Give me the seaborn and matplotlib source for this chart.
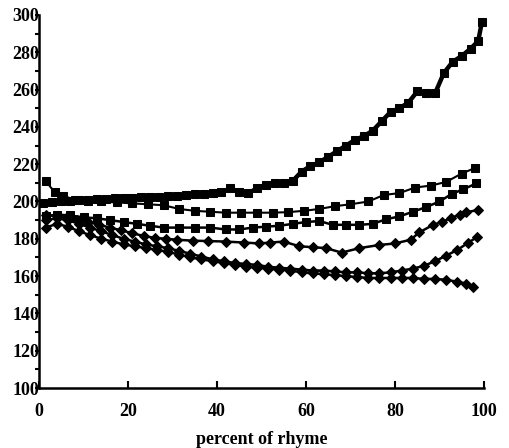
import matplotlib
matplotlib.use("Agg")
import matplotlib.pyplot as plt
import seaborn as sns
import pandas as pd
from matplotlib.ticker import MultipleLocator

sns.set_theme(style="white")
plt.rcParams['font.family'] = ['Liberation Serif', 'DejaVu Serif']

# Series A (top, squares)
x_a = [1, 3, 5, 7, 9, 11, 13, 15, 17, 19, 21, 23, 25, 27, 29, 31, 33, 35, 37, 39,
       41, 43, 45, 47, 49, 51, 53, 55, 57, 59, 61, 63, 65, 67, 69, 71, 73, 75, 77, 79,
       81, 83, 85, 87, 89, 91, 93, 95, 97, 98.7, 99.5]
y_a = [199, 199.5, 200, 200.5, 201, 201, 201.5, 201.5, 202, 202, 202, 202.5, 202.5, 202.5, 203, 203, 203.5, 204, 204, 204.5,
       205, 207, 205, 204.5, 207, 209, 210, 210, 211, 216, 219, 221, 224, 227, 230, 233, 235, 238, 243, 248,
       250, 253, 259, 258, 258, 269, 275, 278, 282, 286, 296]

# Series B (squares, ends ~218)
x_b = [1.5, 3.5, 5.5, 8, 11, 14, 17.5, 21, 24.5, 28, 31.5, 35, 38.5, 42, 45.5, 49, 52.5, 56,
       59.5, 63, 66.5, 70, 74, 77.5, 81, 84.5, 88, 91.5, 95, 98]
y_b = [211, 205, 203, 201, 200.5, 200, 199.5, 199, 198.5, 198, 196, 195, 194.5, 194, 194, 194, 194, 194.3,
       195, 196, 197.5, 198.5, 200, 203.5, 204.5, 207.5, 208.5, 210.5, 215, 218]

# Series C (squares, ends ~210)
x_c = [1.5, 4, 7, 10, 13, 16, 19, 22, 25, 28, 31.5, 35, 38.5, 42, 45, 48, 51, 54, 57, 60,
       63, 66, 69, 72, 75, 78, 81, 84, 87, 90, 92.7, 95.3, 98.3]
y_c = [192, 193, 192.5, 191.5, 191, 190, 189, 188, 187, 186, 186, 186, 186, 185, 185, 186, 186.5, 187, 188, 189,
       189.5, 187.5, 187.5, 187.5, 188, 190.5, 192, 194.5, 197, 200, 204, 206.5, 209.7]

# Series D (diamonds, ends ~195)
x_d = [1.5, 4, 6, 8.5, 11, 13.5, 16, 18.5, 21, 23.5, 26, 28.5, 31, 34.5, 38, 42, 46, 49.5, 52, 55,
       58.5, 61.5, 64.5, 68, 72, 76.5, 80, 83.5, 85.5, 88.5, 90.5, 92.5, 94.5, 96, 98.7]
y_d = [193, 192, 191, 190, 189, 187.5, 186, 184.5, 183, 181.5, 180.5, 180, 179.5, 179, 178.8, 178.5, 178, 177.5, 178, 178.5,
       176, 175.5, 175, 172.6, 175, 176.7, 177.5, 179.5, 183.5, 187.4, 189, 191, 193, 194.3, 195.4]

# Series E (diamonds, ends ~181)
x_e = [1.5, 4, 6.5, 9, 11.5, 14, 16.5, 19, 21.5, 24, 26.5, 29, 31.5, 34, 36.5, 39, 41.5, 44, 46.5, 49,
       51.5, 54, 56.5, 59, 61.5, 64, 66.5, 69, 71.5, 74, 76.5, 79, 81.5, 84, 86.5, 89, 91.5, 94, 96.5, 98.5]
y_e = [190, 191, 190, 188, 186, 184, 182, 180, 178.5, 177, 176, 175, 173.5, 172, 170.5, 169, 168, 167, 166.5, 166,
       165, 164.5, 164, 163.5, 163, 163, 162.5, 162, 162, 161.5, 161.5, 162, 163, 164, 165.5, 168, 171, 174, 178, 181]

# Series F (diamonds, ends ~154)
x_f = [1.5, 4, 6.5, 9, 11.5, 14, 16.5, 19, 21.5, 24, 26.5, 29, 31.5, 34, 36.5, 39, 41.5, 44, 46.5, 49,
       51.5, 54, 56.5, 59, 61.5, 64, 66.5, 69, 71.5, 74, 76.5, 79, 81.5, 84, 86.5, 89, 91.5, 94, 96, 97.5]
y_f = [186, 188, 186.5, 184, 182, 180, 178.5, 177, 176, 175, 174, 173, 171.5, 170, 169, 168, 167, 166, 165, 164.5,
       164, 163.5, 163, 162, 161.5, 161, 160.5, 160, 159.5, 159, 159, 159, 159, 159, 158.5, 158.5, 158, 157, 156, 154]

x_ticks = [0, 20, 40, 60, 80, 100]
y_ticks = [100, 120, 140, 160, 180, 200, 220, 240, 260, 280, 300]
x_label = "percent of rhyme"

series = [
    (x_a, y_a, 's', 6.0, 3.2),
    (x_b, y_b, 's', 5.4, 1.5),
    (x_c, y_c, 's', 5.4, 1.8),
    (x_d, y_d, 'D', 4.8, 1.8),
    (x_e, y_e, 'D', 4.8, 1.8),
    (x_f, y_f, 'D', 4.8, 1.8),
]

fig = plt.figure(figsize=(5.10, 4.48), dpi=100)
ax = fig.add_axes([39 / 510, 60 / 448, 445 / 510, 373 / 448])

for xs, ys, mk, ms, lw in series:
    df = pd.DataFrame({"x": xs, "y": ys})
    sns.lineplot(data=df, x="x", y="y", ax=ax, color="black", marker=mk,
                 markersize=ms, markeredgecolor="black", linewidth=lw, clip_on=False)

ax.set_xlim(0, 100)
ax.set_ylim(100, 300)
ax.set_xticks(x_ticks)
ax.set_yticks(y_ticks)
ax.set_xticklabels([str(t) for t in x_ticks])
ax.set_yticklabels([str(t) for t in y_ticks])
ax.yaxis.set_minor_locator(MultipleLocator(10))

for s in ["top", "right"]:
    ax.spines[s].set_visible(False)
for s in ["left", "bottom"]:
    ax.spines[s].set_color("black")
    ax.spines[s].set_linewidth(1.8)

ax.tick_params(axis="y", which="both", direction="out", length=3, width=1.5,
               color="black", pad=-3, left=True, labelsize=13, labelcolor="black")
ax.tick_params(axis="x", which="major", direction="in", length=5, width=1.5,
               color="black", pad=11, bottom=True, labelsize=13, labelcolor="black")
for lab in ax.get_xticklabels() + ax.get_yticklabels():
    lab.set_fontweight("bold")

ax.set_xlabel(x_label, fontsize=13, fontweight="bold", color="black", labelpad=8)
ax.set_ylabel("")

fig.savefig("out.png", dpi=100)
